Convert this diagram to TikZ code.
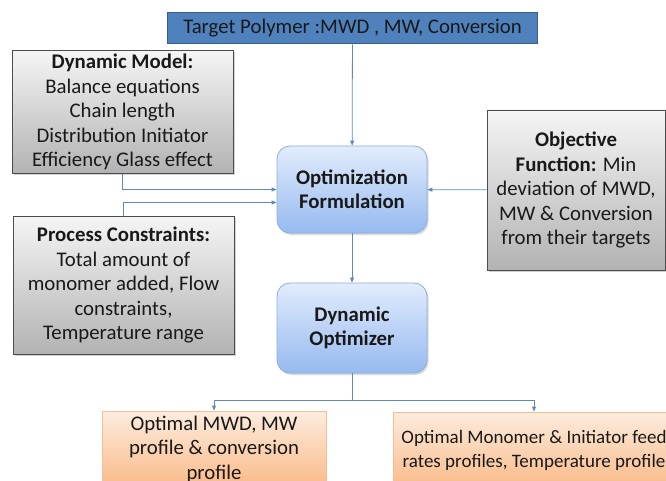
\documentclass[tikz,border=0pt]{standalone}
\usepackage{fontspec}
\setmainfont{Carlito}
\usetikzlibrary{positioning,arrows.meta,shadows}
\definecolor{tgtfill}{RGB}{79,129,189}
\definecolor{tgtline}{RGB}{56,93,138}
\definecolor{linkblue}{RGB}{96,138,190}
\definecolor{bluetop}{RGB}{226,236,252}
\definecolor{bluebot}{RGB}{150,186,240}
\definecolor{blueline}{RGB}{140,175,220}
\definecolor{orgtop}{RGB}{253,236,222}
\definecolor{orgbot}{RGB}{250,186,136}
\definecolor{orgline}{RGB}{244,190,150}
\definecolor{inktext}{RGB}{25,25,25}

\begin{document}
\begin{tikzpicture}[x=1pt, y=-1pt,
  every node/.style={text=inktext, font=\fontsize{20.8}{24.5}\selectfont, align=center, inner sep=2pt},
  tgtbox/.style={draw=tgtline, fill=tgtfill, line width=1pt, minimum width=370pt, minimum height=31pt},
  graybox/.style={draw=black!70, line width=0.8pt, top color=gray!8, bottom color=gray!60,
                  drop shadow={opacity=0.35, shadow xshift=2pt, shadow yshift=-2pt}},
  stepbox/.style={draw=blueline, line width=0.8pt, rounded corners=13pt, top color=bluetop, bottom color=bluebot,
                  minimum width=150pt, drop shadow={opacity=0.3, shadow xshift=1.5pt, shadow yshift=-2pt},
                  font=\fontsize{20.8}{24.5}\selectfont\bfseries},
  outbox/.style={draw=orgline, line width=0.8pt, top color=orgtop, bottom color=orgbot},
  arr/.style={-{Triangle[length=5pt, width=4pt]}, linkblue, line width=0.8pt}]
\clip (0,0) rectangle (666,481);
\fill[white] (0,0) rectangle (666,481);
% boxes
\node[tgtbox] (tgt) at (352.5,28.5) {Target Polymer :MWD , MW, Conversion};
\node[graybox, minimum width=221pt, minimum height=123pt] (model) at (122.5,112)
  {\textbf{Dynamic Model:}\\ Balance equations\\ Chain length\\ Distribution Initiator\\ Efficiency Glass effect};
\node[stepbox, minimum height=87pt] (opt) at (352,189.5) {Optimization\\ Formulation};
\node[graybox, minimum width=178pt, minimum height=160pt] (obj) at (576,190)
  {\textbf{Objective}\\ \textbf{Function:} Min\\ deviation of MWD,\\ MW \& Conversion\\ from their targets};
\node[graybox, minimum width=221pt, minimum height=138pt] (cons) at (123.5,285)
  {\textbf{Process Constraints:}\\ Total amount of\\ monomer added, Flow\\ constraints,\\ Temperature range};
\node[stepbox, minimum height=90pt] (dyn) at (352,328) {Dynamic\\ Optimizer};
\node[outbox, minimum width=224pt, minimum height=76pt] (resL) at (214,449)
  {Optimal MWD, MW\\ profile \& conversion\\ profile};
\node[outbox, minimum width=282pt, minimum height=76pt, font=\fontsize{19}{24}\selectfont] (resR) at (534,450)
  {Optimal Monomer \& Initiator feed\\ rates profiles, Temperature profile};
% links
\coordinate (split) at (352,400);
\draw[arr] (tgt) -- (opt);
\draw[arr] (model.south) |- (opt.west);
\draw[arr] (cons.north) |- ([yshift=-13pt]opt.west);
\draw[arr] (obj) -- (opt);
\draw[arr] (opt) -- (dyn);
\draw[linkblue, line width=0.8pt] (dyn.south) -- (split);
\draw[arr] (split) -| (resL.north);
\draw[arr] (split) -| (resR.north);
\end{tikzpicture}
\end{document}
